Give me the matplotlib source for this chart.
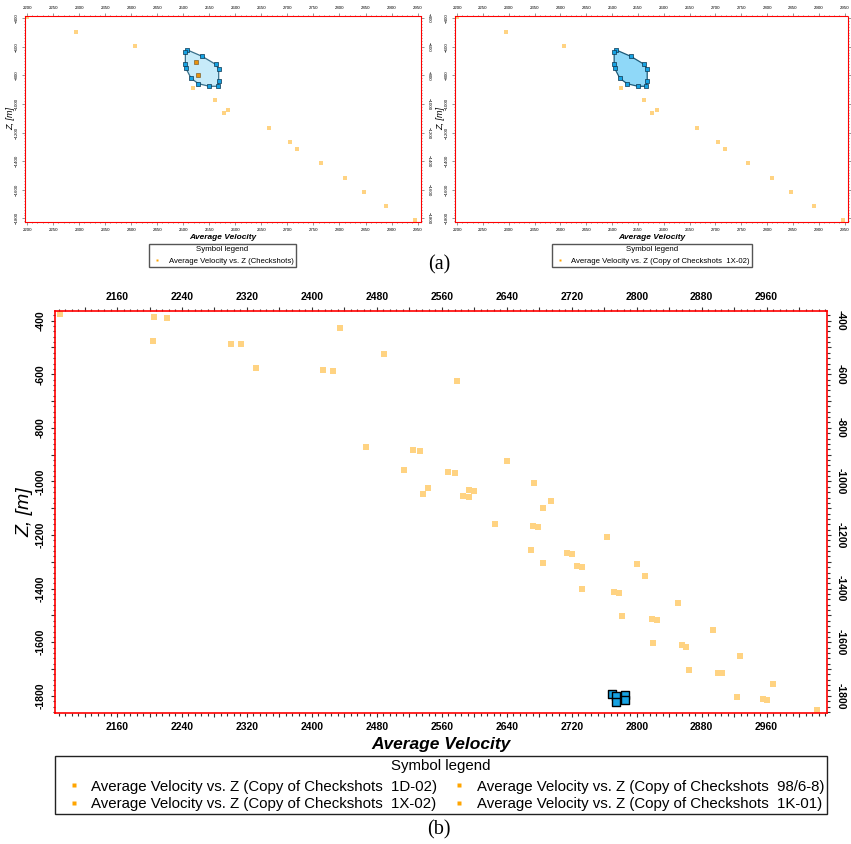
import numpy as np
import matplotlib.pyplot as plt
from matplotlib.lines import Line2D
from matplotlib.ticker import MultipleLocator, FuncFormatter

plt.rcParams['font.family'] = ['Liberation Sans', 'DejaVu Sans']

# (a) checkshots of a single well
vel_a = [2200, 2294, 2407, 2518, 2561, 2578, 2586, 2664, 2705, 2718, 2764, 2810, 2847, 2890, 2946]
z_a = [-393, -494, -596, -890, -972, -1063, -1040, -1170, -1268, -1317, -1415, -1515, -1613, -1713, -1811]
# checkshots inside the selection polygon (only visible in the left panel)
vel_sel_a = [2525, 2528]
z_sel_a = [-703, -797]
# selection polygon
poly_vel = [2508, 2536, 2562, 2568, 2568, 2566, 2550, 2529, 2515, 2505, 2504, 2504]
poly_z = [-622, -666, -722, -755, -841, -876, -876, -858, -820, -750, -720, -638]

# (b) checkshots of all wells
vel_b = [2090, 2206, 2222, 2204, 2300, 2313, 2435, 2331, 2414, 2426, 2489, 2467, 2525, 2533,
         2514, 2543, 2537, 2579, 2640, 2568, 2576, 2674, 2593, 2600, 2586, 2593, 2694, 2684,
         2626, 2672, 2679, 2764, 2670, 2714, 2720, 2684, 2727, 2733, 2800, 2810, 2733, 2772,
         2778, 2851, 2782, 2819, 2825, 2894, 2820, 2856, 2861, 2927, 2865, 2900, 2905, 2968,
         2923, 2956, 2961, 3022]
z_b = [-375, -386, -390, -475, -486, -488, -426, -576, -584, -588, -526, -873, -884, -887,
       -957, -1023, -1048, -627, -924, -966, -969, -1007, -1033, -1037, -1056, -1058, -1074, -1098,
       -1157, -1166, -1169, -1207, -1257, -1266, -1270, -1303, -1314, -1318, -1307, -1353, -1403, -1414,
       -1418, -1454, -1503, -1513, -1516, -1554, -1604, -1612, -1616, -1653, -1703, -1713, -1716, -1754,
       -1803, -1813, -1815, -1853]
# selected points
vel_sel_b = [2770, 2774, 2775, 2785, 2785]
z_sel_b = [-1794, -1802, -1822, -1798, -1815]

legend_a = ['Average Velocity vs. Z (Checkshots)',
            'Average Velocity vs. Z (Copy of Checkshots  1X-02)']
legend_b = ['Average Velocity vs. Z (Copy of Checkshots  1D-02)',
            'Average Velocity vs. Z (Copy of Checkshots  1X-02)',
            'Average Velocity vs. Z (Copy of Checkshots  98/6-8)',
            'Average Velocity vs. Z (Copy of Checkshots  1K-01)']

punto = '#FFD382'
punto_leg = '#FFA500'
azul = '#16A2E2'

W, H = 851, 844
fig = plt.figure(figsize=(W / 100, H / 100), dpi=100)


def caja(x0, x1, y0, y1):
    # caja en pixeles -> fraccion de figura
    return [x0 / W, 1 - y1 / H, (x1 - x0) / W, (y1 - y0) / H]


def rotar_etiquetas(ax, bold=False):
    for t in ax.yaxis.get_major_ticks():
        t.label1.set_rotation(90)
        t.label1.set_va('center')
        t.label2.set_rotation(270)
        t.label2.set_va('center')
    if bold:
        for t in ax.xaxis.get_major_ticks() + ax.yaxis.get_major_ticks():
            t.label1.set_fontweight('bold')
            t.label2.set_fontweight('bold')


def panel_pequeno(pos, relleno, ver_dentro, etiqueta, centro_leyenda, derecha=True):
    ax = fig.add_axes(pos)
    ax.scatter(vel_a, z_a, marker='s', s=5, c=punto, linewidths=0, zorder=1)
    if ver_dentro:
        ax.scatter(vel_sel_a, z_sel_a, marker='s', s=7, c='#E8920C',
                   edgecolors='#6b4a1a', linewidths=0.4, zorder=3)
    ax.fill(poly_vel, poly_z, facecolor=relleno, edgecolor='#1d5a78', lw=0.9,
            zorder=2, alpha=0.85 if ver_dentro else 1)
    ax.scatter(poly_vel, poly_z, marker='s', s=10, c=azul,
               edgecolors='#0b3550', linewidths=0.5, zorder=4)
    ax.set_xlim(2196, 2956)
    ax.set_ylim(-1824, -384)
    ax.set_xticks(np.arange(2200, 2951, 50))
    ax.set_yticks(np.arange(-1800, -399, 200))
    ax.xaxis.set_minor_locator(MultipleLocator(10))
    ax.yaxis.set_minor_locator(MultipleLocator(20))
    ax.tick_params(which='both', top=True, right=True, labeltop=True, labelright=derecha,
                   labelsize=3.2, direction='out', width=0.4, color='#444444')
    ax.tick_params(which='major', length=2, pad=2.5)
    ax.tick_params(which='minor', length=1)
    rotar_etiquetas(ax)
    for s in ax.spines.values():
        s.set_color('red')
        s.set_linestyle((0, (1, 1)))
        s.set_linewidth(0.8)
    ax.set_xlabel('Average Velocity', fontsize=6, style='italic', fontweight='bold', labelpad=1.5)
    ax.set_ylabel('Z, [m]', fontsize=6.5, style='italic', labelpad=0)
    h = [Line2D([], [], ls='none', marker='s', ms=1.6, mec='none', mfc=punto_leg)]
    ax.legend(h, [etiqueta], title='Symbol legend', fontsize=5.6, title_fontsize=5.7,
              loc='upper center', bbox_to_anchor=(centro_leyenda / W, 1 - 244 / H),
              bbox_transform=fig.transFigure,
              fancybox=False, edgecolor='#555555', framealpha=1, borderpad=0.3,
              handletextpad=0.8, handlelength=1.4, borderaxespad=0)
    return ax


ax1 = panel_pequeno(caja(25, 420.7, 16, 221.7), '#BDE8F8', True, legend_a[0], 222.5)
ax2 = panel_pequeno(caja(455, 847.7, 16, 221.7), '#8FD8F8', False, legend_a[1], 652, derecha=False)

# panel (b)
ax = fig.add_axes(caja(54.5, 826.7, 311, 713))
ax.scatter(vel_b, z_b, marker='s', s=22, c=punto, linewidths=0, zorder=1)
ax.scatter(vel_sel_b, z_sel_b, marker='s', s=40, c=azul, edgecolors='black',
           linewidths=1, zorder=3)
ax.set_xlim(2083, 3034)
ax.set_ylim(-1864, -364)
ax.xaxis.set_major_locator(MultipleLocator(40))
ax.xaxis.set_minor_locator(MultipleLocator(8))
ax.yaxis.set_major_locator(MultipleLocator(100))
ax.yaxis.set_minor_locator(MultipleLocator(20))
ax.xaxis.set_major_formatter(FuncFormatter(lambda v, p: '%d' % v if round(v) % 80 == 0 else ''))
ax.yaxis.set_major_formatter(FuncFormatter(lambda v, p: '%d' % v if round(v) % 200 == 0 else ''))
ax.tick_params(which='both', top=True, right=True, labeltop=True, labelright=True,
               labelsize=7.5, direction='out', width=0.8, color='#333333')
ax.tick_params(which='major', length=3.2, pad=3)
ax.tick_params(which='minor', length=1.8)
ax.set_xticks(np.arange(2120, 3031, 40))
ax.set_yticks(np.arange(-1800, -399, 100))
rotar_etiquetas(ax, bold=True)
for s in ax.spines.values():
    s.set_color('red')
    s.set_linewidth(1.2)
ax.set_xlabel('Average Velocity', fontsize=12.5, style='italic', fontweight='bold', labelpad=4)
ax.set_ylabel('Z, [m]', fontsize=14, style='italic', labelpad=2)

h = [Line2D([], [], ls='none', marker='s', ms=3.5, mec='none', mfc=punto_leg) for _ in legend_b]
leg = ax.legend(h, legend_b, title='Symbol legend', ncol=2, mode='expand', fontsize=10.8,
                title_fontsize=10.8, loc='upper left',
                bbox_to_anchor=(54.5 / W, 1 - 757 / H, (826.7 - 54.5) / W, 0.001),
                bbox_transform=fig.transFigure, fancybox=False, edgecolor='#222222',
                framealpha=1, borderpad=0.17, labelspacing=0.25, handletextpad=0.05,
                handlelength=2.2, borderaxespad=0, columnspacing=0.3)
leg.get_frame().set_linewidth(1)
# un poco mas de espacio entre el titulo y las entradas
leg._legend_box.sep = 5

fig.text(439 / W, 1 - 265 / H, '(a)', family='Liberation Serif', fontsize=14.5,
         ha='center', va='center')
fig.text(439 / W, 1 - 830 / H, '(b)', family='Liberation Serif', fontsize=14.5,
         ha='center', va='center')

fig.savefig('out.png', dpi=100)
